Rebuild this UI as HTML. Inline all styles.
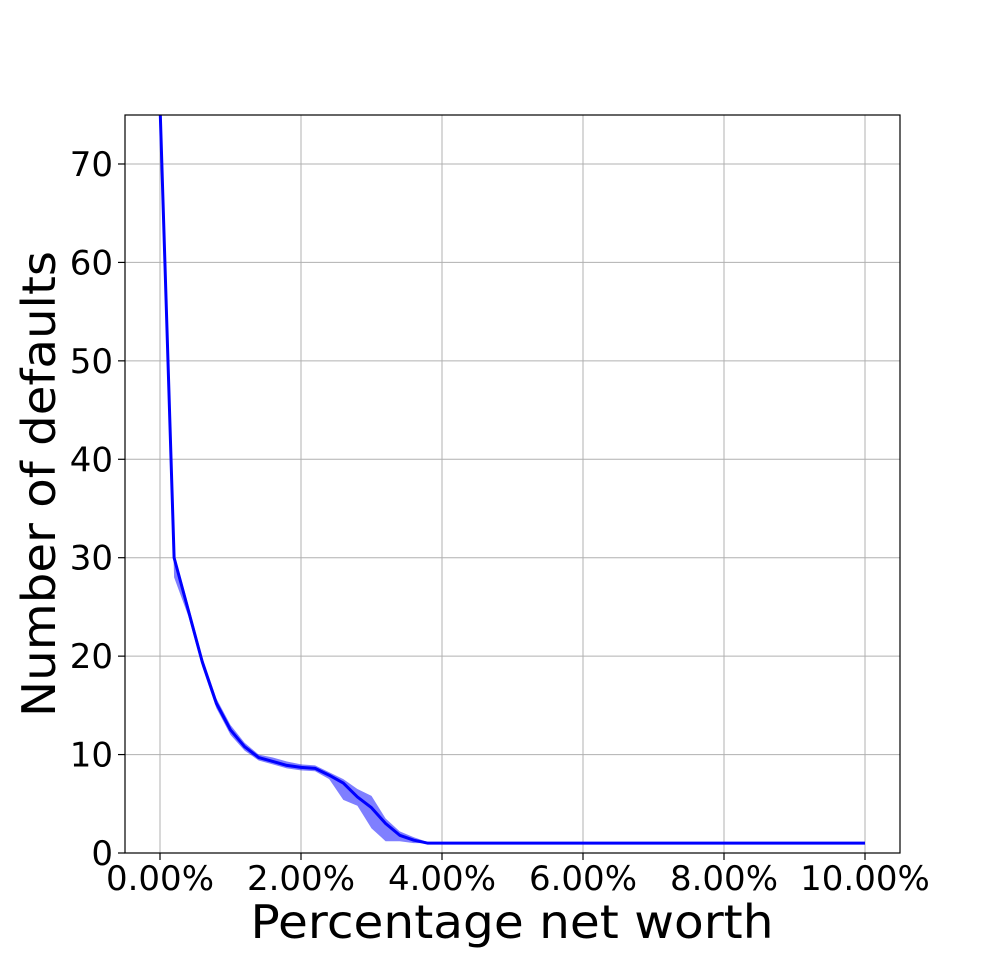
<!DOCTYPE html>
<html><head><meta charset="utf-8"><style>
html,body{margin:0;padding:0;background:#fff;}
svg text{font-family:"DejaVu Sans","Liberation Sans",sans-serif;fill:#000;}
</style></head><body>
<svg id="chart" width="1000" height="958" xmlns="http://www.w3.org/2000/svg">
<defs><clipPath id="clip"><rect x="125" y="115" width="775" height="738"/></clipPath></defs>
<g id="grid"></g>
<g id="band" clip-path="url(#clip)"></g>
<g id="line" clip-path="url(#clip)"></g>
<rect x="125" y="115" width="775" height="738" fill="none" stroke="#000" stroke-width="1.2"/>
<g id="ticks"></g>
<text x="512" y="938" font-size="46" text-anchor="middle" textLength="523" lengthAdjust="spacingAndGlyphs">Percentage net worth</text>
<text transform="translate(55,484) rotate(-90)" font-size="46" text-anchor="middle" textLength="466" lengthAdjust="spacingAndGlyphs">Number of defaults</text>
</svg>
<script>
const xValues=[0,0.2,0.4,0.6,0.8,1.0,1.2,1.4,1.6,1.8,2.0,2.2,2.4,2.6,2.8,3.0,3.2,3.4,3.6,3.8,4,5,6,7,8,9,10];
const meanValues=[76,30,24.7,19.4,15.2,12.5,10.8,9.7,9.3,8.9,8.7,8.6,7.9,7.1,5.7,4.6,3.0,1.8,1.3,1.0,1,1,1,1,1,1,1];
const lowerValues=[76,28,24.1,18.9,14.7,12.0,10.4,9.4,9.0,8.6,8.4,8.3,7.5,5.4,4.8,2.5,1.2,1.2,1.0,1.0,1,1,1,1,1,1,1];
const upperValues=[76,30.4,25.3,19.9,15.7,13.0,11.2,10.0,9.7,9.3,9.0,8.9,8.2,7.5,6.5,5.8,3.5,2.2,1.6,1.1,1,1,1,1,1,1,1];
const xTicks=[0,2,4,6,8,10];
const xTickLabels=["0.00%","2.00%","4.00%","6.00%","8.00%","10.00%"];
const yTicks=[0,10,20,30,40,50,60,70];
const NS="http://www.w3.org/2000/svg";
const X=v=>160+v*70.5;
const Y=v=>853-v*9.843;
function mk(t,a,p){const e=document.createElementNS(NS,t);for(const k in a)e.setAttribute(k,a[k]);p.appendChild(e);return e;}
const grid=document.getElementById('grid'),ticks=document.getElementById('ticks');
xTicks.forEach((v,i)=>{
 const g=mk('line',{x1:X(v),x2:X(v),y1:115,y2:853,stroke:'#b0b0b0','stroke-width':1},grid);
 
 
 const t=mk('line',{x1:X(v),x2:X(v),y1:853,y2:860,stroke:'#000','stroke-width':1.2},ticks);
 
 
 const l=mk('text',{x:X(v),y:890,'font-size':34,'text-anchor':'middle'},ticks);
 l.textContent=xTickLabels[i];
 
 
});
yTicks.forEach(v=>{
 const g=mk('line',{x1:125,x2:900,y1:Y(v),y2:Y(v),stroke:'#b0b0b0','stroke-width':1},grid);
 
 
 const t=mk('line',{x1:118,x2:125,y1:Y(v),y2:Y(v),stroke:'#000','stroke-width':1.2},ticks);
 
 
 const l=mk('text',{x:113,y:Y(v)+12,'font-size':34,'text-anchor':'end'},ticks);
 l.textContent=String(v);
 
 
});
let d='';
xValues.forEach((v,i)=>{d+=(i?'L':'M')+X(v)+','+Y(upperValues[i]);});
for(let i=xValues.length-1;i>=0;i--)d+='L'+X(xValues[i])+','+Y(lowerValues[i]);
const band=mk('path',{d:d+'Z',fill:'#0000ff','fill-opacity':0.5,stroke:'none'},document.getElementById('band'));


const pts=xValues.map((v,i)=>X(v)+','+Y(meanValues[i])).join(' ');
const ln=mk('polyline',{points:pts,fill:'none',stroke:'#0000ff','stroke-width':3,'stroke-linejoin':'round'},document.getElementById('line'));


</script>
</body></html>
